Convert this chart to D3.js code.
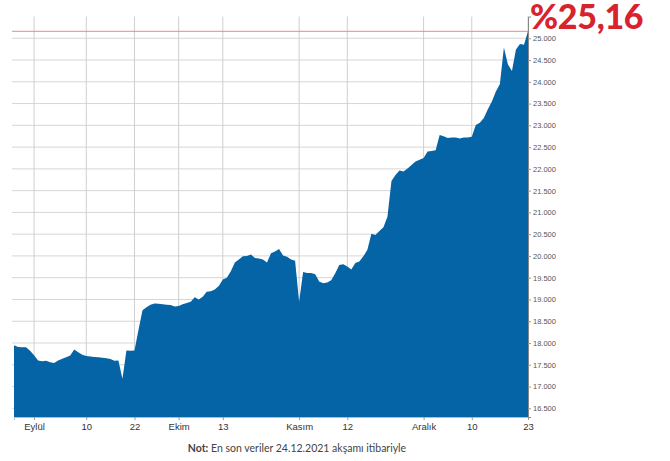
<!DOCTYPE html>
<html>
<head>
<meta charset="utf-8">
<script src="https://cdn.jsdelivr.net/npm/d3@7"></script>
<style>
  body { margin: 0; background: #fff; }
  svg { display: block; font-family: Lato, "Open Sans", sans-serif; }
  .grid line { stroke: #d6d6d6; stroke-width: 1; }
  .vgrid line { stroke: #cfcfcf; stroke-width: 1; }
  .y.axis text { fill: #555; font-size: 7.5px; }
  .x.axis text { fill: #333; font-size: 9.5px; }
  .axis path, .axis line { stroke: #999; }
</style>
</head>
<body>
<div id="chart"></div>
<script>
// daily values (one per trading day shown)
var values = [
  17950, 17910, 17900, 17900, 17820, 17720, 17600, 17580, 17590, 17560,
  17540, 17600, 17640, 17670, 17710, 17850, 17790, 17730, 17700, 17690,
  17680, 17670, 17660, 17650, 17630, 17590, 17600, 17180, 17830, 17820,
  17830, 18300, 18750, 18820, 18880, 18910, 18900, 18890, 18880, 18870,
  18840, 18850, 18890, 18920, 18950, 19050, 19000, 19060, 19180, 19190,
  19230, 19310, 19460, 19500, 19650, 19850, 19920, 19990, 20000, 20030,
  19950, 19940, 19920, 19850, 20060, 20100, 20160, 20010, 19980, 19920,
  19890, 18950, 19630, 19610, 19610, 19580, 19410, 19370, 19390, 19440,
  19600, 19790, 19810, 19760, 19690, 19840, 19870, 19990, 20140, 20510,
  20480, 20570, 20660, 20900, 21720, 21860, 21960, 21940, 22010, 22090,
  22170, 22210, 22250, 22400, 22410, 22430, 22780, 22750, 22710, 22720,
  22720, 22700, 22720, 22720, 22740, 23010, 23060, 23170, 23370, 23550,
  23780, 23950, 24790, 24400, 24250, 24740, 24870, 24850, 25160
];

// x-axis ticks: index into values and label
var tickIndex = [5, 18, 30, 41, 52, 71, 83, 102, 114, 128];
var tickLabels = ["Eylül", "10", "22", "Ekim", "13", "Kasım", "12", "Aralık", "10", "23"];

var yTicks = [16500, 17000, 17500, 18000, 18500, 19000, 19500, 20000, 20500,
              21000, 21500, 22000, 22500, 23000, 23500, 24000, 24500, 25000];
var yMin = 16300, yMax = 25500;
var lastValue = 25160;
var lastLabel = "%25,16";
var note = ["Not:", " En son veriler 24.12.2021 akşamı itibariyle"];

var width = 670, height = 461;
var plotLeft = 14, plotRight = 528, plotTop = 16.5, plotBottom = 417;

var tr = d3.formatLocale({ decimal: ",", thousands: ".", grouping: [3], currency: ["", ""] });
var fmt = tr.format(",");

var svg = d3.select("#chart").append("svg")
  .attr("width", width)
  .attr("height", height);

var xScale = d3.scaleLinear()
  .domain([0, values.length - 1])
  .range([plotLeft, plotRight]);

var yScale = d3.scaleLinear()
  .domain([yMin, yMax])
  .range([plotBottom, plotTop]);

/* horizontal grid */
svg.append("g")
  .attr("class", "grid")
  .selectAll("line")
  .data(yTicks).enter()
  .append("line")
  .attr("x1", plotLeft - 2)
  .attr("x2", plotRight)
  .attr("y1", d => yScale(d))
  .attr("y2", d => yScale(d));

/* vertical grid */
svg.append("g")
  .attr("class", "vgrid")
  .selectAll("line")
  .data(tickIndex).enter()
  .append("line")
  .attr("x1", d => xScale(d))
  .attr("x2", d => xScale(d))
  .attr("y1", yScale(yMax))
  .attr("y2", plotBottom);

/* red reference line at the last value */
svg.append("line")
  .attr("x1", plotLeft - 2)
  .attr("x2", plotRight)
  .attr("y1", yScale(lastValue))
  .attr("y2", yScale(lastValue))
  .style("stroke", "#e58a8a")
  .style("stroke-width", 1);

/* area */
var area = d3.area()
  .x((d, i) => xScale(i))
  .y0(yScale(yMin))
  .y1(d => yScale(d));

svg.append("path")
  .datum(values)
  .attr("d", area)
  .style("fill", "#0464a6");

/* axes */
var xAxis = d3.axisBottom(xScale)
  .tickValues(tickIndex)
  .tickSize(3)
  .tickPadding(3)
  .tickFormat((d, i) => tickLabels[i]);

svg.append("g")
  .attr("class", "x axis")
  .attr("transform", `translate(0, ${plotBottom})`)
  .call(xAxis)
  .call(g => g.select(".domain").style("stroke", "#bbb"));

var yAxis = d3.axisRight(yScale)
  .tickValues(yTicks)
  .tickSize(3)
  .tickPadding(2)
  .tickFormat(fmt);

svg.append("g")
  .attr("class", "y axis")
  .attr("transform", `translate(${plotRight}, 0)`)
  .call(yAxis)
  .call(g => g.select(".domain").style("stroke", "#888"));

/* big last value label */
svg.append("text")
  .attr("x", plotRight + 2)
  .attr("y", 29)
  .style("font-family", "Lato, sans-serif")
  .style("font-weight", 900)
  .style("font-size", "34px")
  .style("letter-spacing", "-0.3px")
  .style("fill", "#d8232f")
  .text(lastLabel);

/* note */
var noteText = svg.append("text")
  .attr("x", 297)
  .attr("y", 452)
  .attr("text-anchor", "middle")
  .style("font-size", "10.5px")
  .style("fill", "#444");
noteText.append("tspan").style("font-weight", 700).text(note[0]);
noteText.append("tspan").text(note[1]);
</script>
</body>
</html>
